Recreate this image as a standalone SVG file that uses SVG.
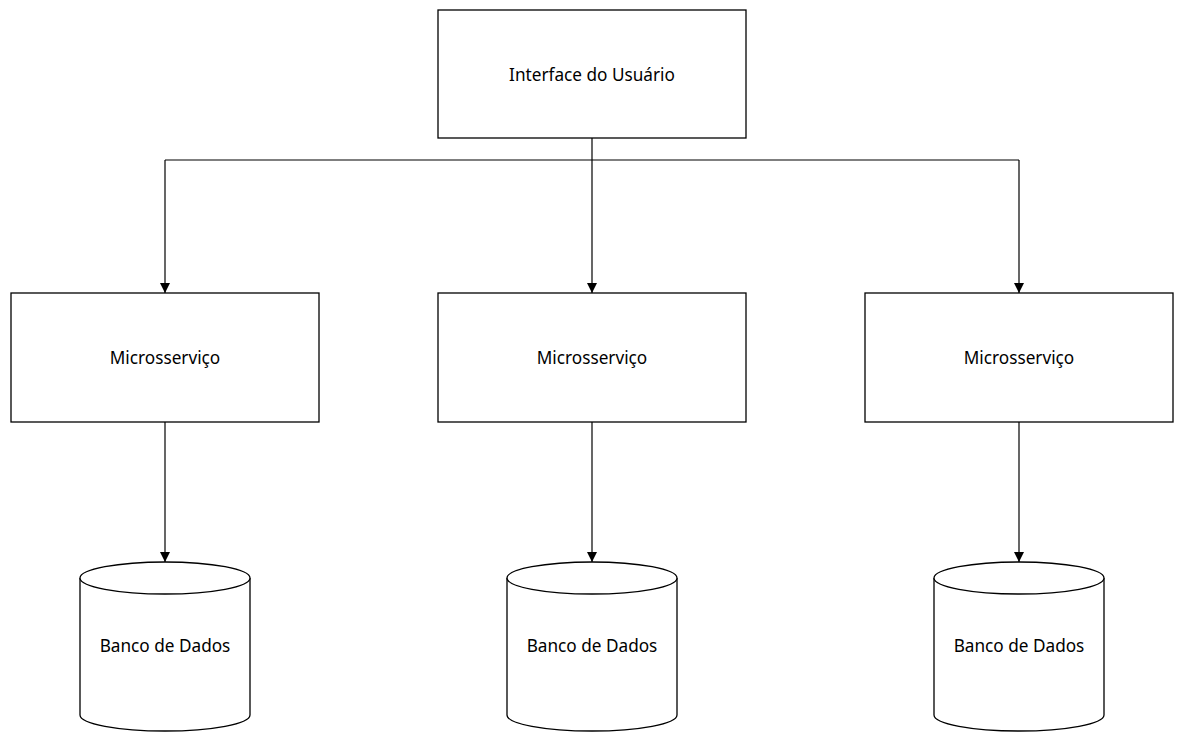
<svg xmlns="http://www.w3.org/2000/svg" width="1184" height="742" viewBox="0 0 1184 742">
<style>
.box{fill:#fff;stroke:#000;stroke-width:1.3}
.lbl{font-family:"Noto Sans","Open Sans",sans-serif;font-size:17.2px;fill:#000;text-anchor:middle;dominant-baseline:central}
.con{fill:none;stroke:#000;stroke-width:1.2}
</style>
<defs>
<marker id="arr" markerWidth="10" markerHeight="10" refX="10" refY="5" orient="auto" markerUnits="userSpaceOnUse">
<path d="M0,0 L10,5 L0,10 Z" fill="#000"/>
</marker>
</defs>
<rect width="1184" height="742" fill="#fff"/>
<g id="connectors">
<path class="con" d="M592,138 V160"/>
<path class="con" d="M165,160 H1019"/>
<path class="con" d="M165,160 V293" marker-end="url(#arr)"/>
<path class="con" d="M592,160 V293" marker-end="url(#arr)"/>
<path class="con" d="M1019,160 V293" marker-end="url(#arr)"/>
<path class="con" d="M165,422 V562" marker-end="url(#arr)"/>
<path class="con" d="M592,422 V562" marker-end="url(#arr)"/>
<path class="con" d="M1019,422 V562" marker-end="url(#arr)"/>
</g>
<g id="ui">
<rect class="box" x="438" y="10" width="308" height="128"/>
<text class="lbl" x="592" y="74">Interface do Usuário</text>
</g>
<g id="ms1">
<rect class="box" x="11" y="293" width="308" height="129"/>
<text class="lbl" x="165" y="357">Microsserviço</text>
</g>
<g id="ms2">
<rect class="box" x="438" y="293" width="308" height="129"/>
<text class="lbl" x="592" y="357">Microsserviço</text>
</g>
<g id="ms3">
<rect class="box" x="865" y="293" width="308" height="129"/>
<text class="lbl" x="1019" y="357">Microsserviço</text>
</g>
<g id="db1">
<path class="box" d="M80,578 A85,16 0 0 1 250,578 V715 A85,16 0 0 1 80,715 Z"/>
<path class="box" d="M80,578 A85,16 0 0 0 250,578" fill="none"/>
<text class="lbl" x="165" y="645">Banco de Dados</text>
</g>
<g id="db2">
<path class="box" d="M507,578 A85,16 0 0 1 677,578 V715 A85,16 0 0 1 507,715 Z"/>
<path class="box" d="M507,578 A85,16 0 0 0 677,578" fill="none"/>
<text class="lbl" x="592" y="645">Banco de Dados</text>
</g>
<g id="db3">
<path class="box" d="M934,578 A85,16 0 0 1 1104,578 V715 A85,16 0 0 1 934,715 Z"/>
<path class="box" d="M934,578 A85,16 0 0 0 1104,578" fill="none"/>
<text class="lbl" x="1019" y="645">Banco de Dados</text>
</g>
</svg>
